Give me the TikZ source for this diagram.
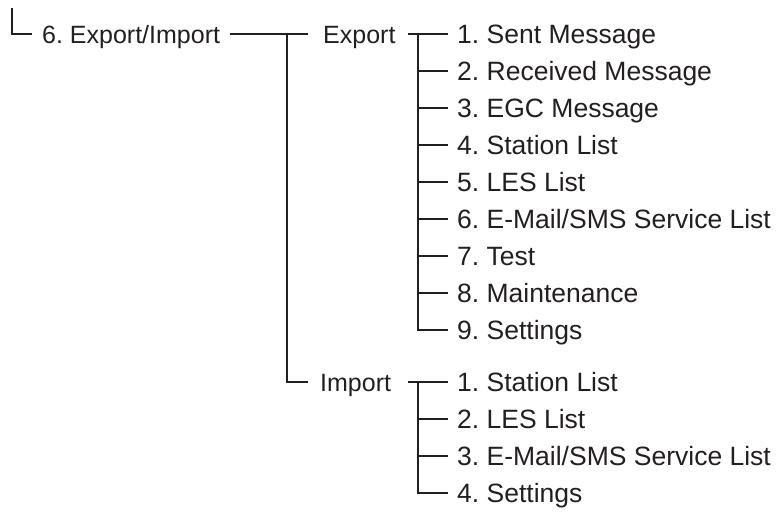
\documentclass[tikz,border=0pt]{standalone}
\usepackage{fontspec}
\setmainfont{Liberation Sans}
\usepackage{xcolor}
\usepackage{tikz}
\usetikzlibrary{positioning}
\definecolor{menuink}{RGB}{35,31,32}
\frenchspacing

\begin{document}
\begin{tikzpicture}[x=1pt, y=-1pt,
  menu/.style={anchor=west, inner sep=0pt, text height=18pt, text depth=0pt,
    font=\fontsize{25}{29}\selectfont, text=menuink},
  entry/.style={menu, font=\fontsize{26.5}{30}\selectfont},
  tree/.style={draw=menuink, line width=1.1pt}]
  \useasboundingbox (0,0) rectangle (778,515);
  % top level
  \coordinate (root) at (12,8);
  \node[menu] (exim) at (42,34) {6. Export/Import};
  \draw[tree] (root) |- ([xshift=-10pt]exim.west);
  % second level
  \node[menu] (export) at (323,34) {Export};
  \node[menu] (import) at (320,382) {Import};
  \draw[tree] ([xshift=10pt]exim.east) -- ([xshift=-15pt]export.west);
  \draw[tree] ([xshift=-36pt]export.west) |- ([xshift=-12pt]import.west);
  % export entries
  \foreach \lbl [count=\i] in {1. Sent Message, 2. Received Message, 3. EGC Message,
      4. Station List, 5. LES List, 6. E-Mail/SMS Service List, 7. Test,
      8. Maintenance, 9. Settings} {
    \node[entry] (ex\i) at (457, {34+37*(\i-1)}) {\lbl};
  }
  \draw[tree] ([xshift=-49pt]ex1.west) -- ([xshift=-9pt]ex1.west);
  \draw[tree] ([xshift=-39pt]ex1.west) |- ([xshift=-9pt]ex9.west);
  \foreach \i in {2,...,8} {
    \draw[tree] ([xshift=-39pt]ex\i.west) -- ([xshift=-9pt]ex\i.west);
  }
  % import entries
  \foreach \lbl [count=\i] in {1. Station List, 2. LES List,
      3. E-Mail/SMS Service List, 4. Settings} {
    \node[entry] (im\i) at (457, {382+37*(\i-1)}) {\lbl};
  }
  \draw[tree] ([xshift=-49pt]im1.west) -- ([xshift=-9pt]im1.west);
  \draw[tree] ([xshift=-39pt]im1.west) |- ([xshift=-9pt]im4.west);
  \foreach \i in {2,3} {
    \draw[tree] ([xshift=-39pt]im\i.west) -- ([xshift=-9pt]im\i.west);
  }
\end{tikzpicture}
\end{document}
